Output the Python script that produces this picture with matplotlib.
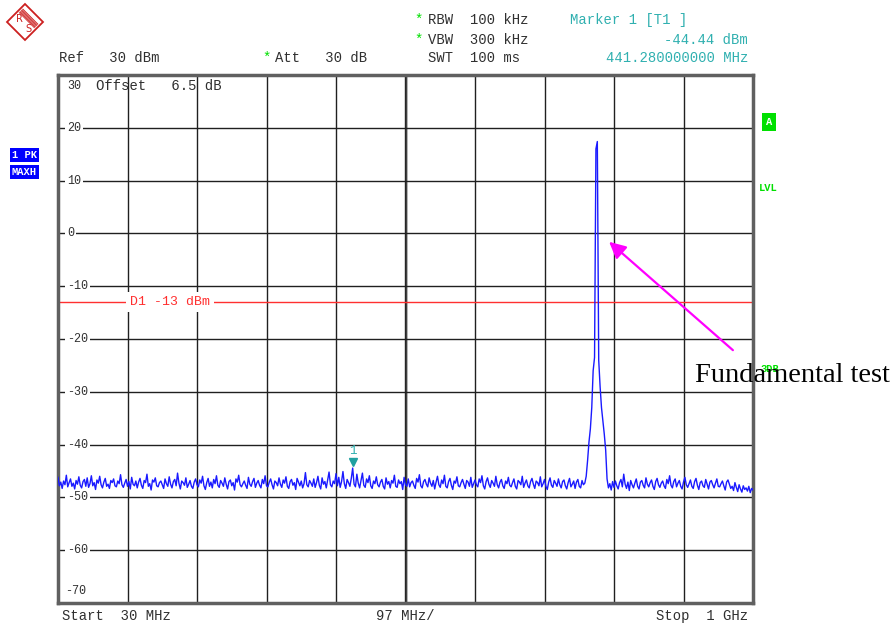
import numpy as np
import matplotlib
matplotlib.use("Agg")
import matplotlib.pyplot as plt
from matplotlib.patches import Polygon

# ---------------- sweep settings (501 points, 30 MHz .. 1 GHz) ----------------
f_start = 30.0
f_stop = 1000.0
n_points = 501
freq = np.linspace(f_start, f_stop, n_points)

# ---------------- trace values (dBm) ----------------
level = [
    -46.2, -47.8, -47.1, -48.3, -46.9, -47.6, -45.8, -48.0, -47.2, -46.5, -47.9, -47.3, -48.4, -46.8, -47.5, -46.1, -47.7, -48.2, -47.0, -46.6,
    -47.9, -46.3, -48.1, -47.4, -45.9, -47.8, -47.2, -48.5, -46.7, -47.3, -46.0, -47.6, -48.2, -47.1, -46.4, -47.9, -47.5, -48.3, -46.8, -47.2,
    -46.5, -47.8, -48.0, -46.9, -47.4, -45.7, -47.6, -48.1, -47.3, -46.6, -47.9, -47.0, -48.4, -46.2, -47.5, -47.8, -46.9, -48.2, -47.1, -46.4,
    -47.7, -48.3, -46.8, -47.2, -45.6, -47.9, -47.4, -48.6, -46.7, -47.1, -46.3, -47.8, -48.0, -47.2, -46.9, -47.6, -48.3, -46.5, -47.4, -47.9,
    -46.1, -47.5, -48.2, -47.0, -46.6, -47.8, -45.4, -47.3, -48.4, -46.9, -47.2, -47.7, -46.3, -48.1, -47.5, -46.8, -47.9, -48.3, -47.1, -46.5,
    -47.6, -48.0, -46.7, -47.3, -46.0, -47.8, -48.5, -47.2, -46.4, -47.9, -47.1, -48.2, -46.6, -47.4, -45.9, -47.7, -48.1, -46.8, -47.3, -47.9,
    -46.3, -47.5, -48.4, -47.0, -46.7, -47.8, -47.2, -48.6, -46.5, -47.1, -45.8, -47.6, -48.0, -47.4, -46.9, -47.7, -48.3, -46.2, -47.5, -47.9,
    -47.0, -46.4, -48.1, -47.3, -46.8, -47.7, -48.2, -46.6, -47.4, -45.9, -47.8, -48.0, -47.1, -46.5, -47.6, -48.4, -46.9, -47.2, -47.8, -46.3,
    -47.5, -48.1, -46.7, -47.3, -46.1, -47.9, -48.3, -47.0, -46.6, -47.7, -47.2, -48.5, -46.4, -47.1, -47.8, -46.9, -48.2, -47.4, -45.3, -47.6,
    -48.0, -46.8, -47.3, -47.9, -46.5, -48.1, -47.2, -46.0, -47.7, -48.4, -46.3, -47.5, -47.0, -48.2, -46.7, -45.2, -47.6, -48.0, -46.9, -47.4,
    -45.5, -47.8, -46.2, -48.1, -47.0, -45.1, -47.4, -48.3, -46.6, -47.2, -47.9, -46.4, -44.44, -47.5, -48.0, -45.6, -47.3, -48.2, -46.8, -45.4,
    -47.7, -48.1, -46.5, -47.2, -45.9, -47.8, -48.3, -46.9, -47.4, -46.1, -47.6, -48.0, -47.1, -46.6, -47.9, -48.4, -46.3, -47.5, -47.0, -48.2,
    -46.8, -47.3, -45.8, -47.9, -48.1, -46.7, -47.4, -47.0, -48.5, -46.2, -47.6, -47.9, -46.5, -48.0, -47.2, -46.9, -47.7, -48.3, -46.4, -47.1,
    -45.7, -47.8, -48.2, -47.0, -46.6, -47.5, -48.0, -46.3, -47.3, -47.9, -46.8, -48.4, -47.1, -46.0, -47.6, -48.1, -46.7, -47.4, -45.8, -47.9,
    -48.2, -47.0, -46.4, -47.7, -48.5, -46.9, -47.3, -46.1, -47.8, -48.0, -47.2, -46.6, -47.5, -48.3, -46.8, -47.1, -47.9, -46.2, -48.1, -47.4,
    -46.7, -47.6, -48.0, -46.5, -47.2, -45.9, -47.8, -48.4, -47.0, -46.3, -47.5, -48.1, -46.8, -47.3, -47.9, -46.0, -47.6, -48.2, -47.1, -46.6,
    -47.8, -48.3, -46.9, -47.4, -46.2, -47.7, -48.0, -47.2, -46.5, -47.9, -48.4, -46.8, -47.1, -47.6, -46.0, -48.1, -47.3, -46.7, -47.8, -48.2,
    -47.0, -46.4, -47.5, -48.3, -46.9, -47.2, -47.8, -46.1, -48.0, -47.4, -46.6, -47.9, -48.5, -47.1, -46.3, -47.7, -48.1, -46.8, -47.3, -47.9,
    -46.5, -47.6, -48.2, -47.0, -46.7, -47.8, -48.4, -47.2, -46.4, -48.0, -47.5, -46.9, -48.3, -47.1, -46.6, -47.9, -48.2, -46.8, -47.6, -47.3,
    # fundamental
    -46.0, -43.0, -39.5, -37.0, -33.0, -26.0, -23.5, 16.0, 17.4, -24.0, -29.0, -33.0, -35.5, -38.0, -41.0, -46.5,
    -48.2, -47.4, -48.6, -47.0, -48.1, -46.9, -47.8, -48.4, -47.2, -46.6, -48.0, -45.6, -47.5, -48.3, -47.1, -48.7, -46.8, -47.6, -48.2, -47.3,
    -46.5, -47.9, -48.4, -47.1, -46.8, -47.7, -48.2, -46.3, -47.5, -48.0, -47.2, -46.7, -47.9, -48.5, -47.0, -46.4, -47.6, -48.1, -47.3, -46.9,
    -47.8, -48.3, -46.6, -47.4, -45.9, -47.7, -48.2, -47.0, -46.5, -48.0, -47.3, -46.8, -47.9, -48.4, -47.1, -46.2, -47.6, -48.1, -47.4, -46.7,
    -47.9, -48.3, -47.0, -46.4, -47.7, -48.5, -47.2, -46.9, -47.8, -48.1, -46.6, -47.5, -48.4, -47.1, -46.8, -47.6, -48.2, -47.3, -46.5, -47.9,
    -48.0, -47.4, -46.9, -47.8, -48.6, -47.1, -46.7, -47.5, -48.3, -47.9, -48.7, -47.2, -48.1, -48.9, -47.6, -48.4, -49.0, -47.8, -48.5, -48.2,
    -48.8, -47.9, -49.1, -48.3, -48.6,
]

ref_level = 30
y_bottom = -70
y_ticks = [20, 10, 0, -10, -20, -30, -40, -50, -60]
display_line = -13
marker_freq = 441.28
marker_level = -44.44
span_div = 97.0

mono = "Liberation Mono"
teal = "#30b0b0"
green = "#00e000"
logo_red = "#cc2020"

fig = plt.figure(figsize=(8.96, 6.24), dpi=100)
ax = fig.add_axes([58 / 896, 1 - 603 / 624, 695 / 896, 528 / 624])
ax.set_xlim(f_start, f_stop)
ax.set_ylim(y_bottom, ref_level)

# grid
for k in range(1, 10):
    ax.axvline(f_start + k * span_div, color="#202020", lw=1.0, zorder=1)
ax.axvline(515 - 1.2, color="#202020", lw=1.0, zorder=1)
ax.axvline(515 + 1.2, color="#404040", lw=1.0, zorder=1)
for v in y_ticks:
    ax.axhline(v, color="#202020", lw=1.0, zorder=1)
    ax.annotate(str(v), xy=(0, v), xycoords=("axes fraction", "data"), xytext=(9, 0),
                textcoords="offset pixels", ha="left", va="center", fontsize=8.5,
                family=mono, color="#303030", zorder=3,
                bbox=dict(boxstyle="square,pad=0.15", fc="white", ec="none"))
ax.annotate(str(ref_level), xy=(0, 1), xycoords="axes fraction", xytext=(9, -11),
            textcoords="offset pixels", ha="left", va="center", fontsize=8.5,
            family=mono, color="#303030")
ax.annotate(str(y_bottom), xy=(0, 0), xycoords="axes fraction", xytext=(7, 12),
            textcoords="offset pixels", ha="left", va="center", fontsize=8.5,
            family=mono, color="#303030")
ax.annotate("Offset   6.5 dB", xy=(0, 1), xycoords="axes fraction", xytext=(38, -11),
            textcoords="offset pixels", ha="left", va="center", fontsize=10,
            family=mono, color="#303030")

ax.set_xticks([])
ax.set_yticks([])
for s in ax.spines.values():
    s.set_color("#606060")
    s.set_linewidth(2.5)

# display line D1
ax.axhline(display_line, color="#ff3030", lw=1.0, zorder=2)
ax.annotate("D1 -13 dBm", xy=(0, display_line), xycoords=("axes fraction", "data"),
            xytext=(72, 0), textcoords="offset pixels", ha="left", va="center",
            fontsize=9.5, family=mono, color="#ff3030", zorder=3,
            bbox=dict(boxstyle="square,pad=0.3", fc="white", ec="none"))

# trace
ax.plot(freq, level, color="#1a1aff", lw=1.0, zorder=4)

# marker 1 (triangle sits just above the marked point)
ax.annotate("", xy=(marker_freq, marker_level), xytext=(0, 6), textcoords="offset pixels")
ax.plot([marker_freq], [marker_level + 1.2], marker="v", color="#20a0a0", ms=6,
        linestyle="none", zorder=5)
ax.annotate("1", xy=(marker_freq, marker_level), xytext=(0, 17), textcoords="offset pixels",
            ha="center", va="center", fontsize=9, family=mono, color=teal)

# overlay in pixel coordinates for the screen annotations
ov = fig.add_axes([0, 0, 1, 1], zorder=10)
ov.set_xlim(0, 896)
ov.set_ylim(624, 0)
ov.axis("off")

# R&S logo
ov.add_patch(Polygon([(25, 4), (43, 22), (25, 40), (7, 22)], closed=True,
                     fill=False, ec=logo_red, lw=1.3))
for t in np.linspace(0.6, 0.8, 6):
    ov.plot([7 + 18 * t + 1.5, 25 + 18 * t - 1.5], [22 - 18 * t + 1.5, 40 - 18 * t - 1.5],
            color=logo_red, lw=0.6)
ov.text(19, 19, "R", color=logo_red, fontsize=7, ha="center", va="center", family="DejaVu Sans")
ov.text(28, 29, "S", color=logo_red, fontsize=7, ha="center", va="center", family="DejaVu Sans")

hdr = dict(family=mono, fontsize=10, va="center", color="#303030")
ov.text(59, 58, "Ref   30 dBm", ha="left", **hdr)
ov.text(267, 58, "*", ha="center", family=mono, fontsize=10, va="center", color=green)
ov.text(275, 58, "Att   30 dB", ha="left", **hdr)
ov.text(419, 20, "*", ha="center", family=mono, fontsize=10, va="center", color=green)
ov.text(428, 20, "RBW  100 kHz", ha="left", **hdr)
ov.text(419, 40, "*", ha="center", family=mono, fontsize=10, va="center", color=green)
ov.text(428, 40, "VBW  300 kHz", ha="left", **hdr)
ov.text(428, 58, "SWT  100 ms", ha="left", **hdr)
ov.text(570, 20, "Marker 1 [T1 ]", ha="left", family=mono, fontsize=10, va="center", color=teal)
ov.text(748, 40, "%.2f dBm" % marker_level, ha="right", family=mono, fontsize=10, va="center", color=teal)
ov.text(748, 58, "%.9f MHz" % marker_freq, ha="right", family=mono, fontsize=10, va="center", color=teal)

ov.text(62, 616, "Start  30 MHz", ha="left", **hdr)
ov.text(405, 616, "97 MHz/", ha="center", **hdr)
ov.text(748, 616, "Stop  1 GHz", ha="right", **hdr)

# side badges
ov.text(12, 155, "1 PK", ha="left", va="center", family=mono, fontsize=7.5, weight="bold",
        color="white", bbox=dict(boxstyle="square,pad=0.2", fc="#0000ff", ec="none"))
ov.text(12, 172, "MAXH", ha="left", va="center", family=mono, fontsize=7.5, weight="bold",
        color="white", bbox=dict(boxstyle="square,pad=0.2", fc="#0000ff", ec="none"))
ov.text(769, 122, "A", ha="center", va="center", family=mono, fontsize=7.5, weight="bold",
        color="white", bbox=dict(boxstyle="square,pad=0.35", fc=green, ec="none"))
ov.text(759, 188, "LVL", ha="left", va="center", family=mono, fontsize=7.5, weight="bold", color=green)
ov.text(760, 369, "3DB", ha="left", va="center", family=mono, fontsize=7.5, weight="bold",
        color=green, zorder=1)

# annotation
ov.annotate("", xy=(607, 240), xytext=(735, 352),
            arrowprops=dict(arrowstyle="-|>,head_length=1.0,head_width=0.5",
                            color="#ff00ff", lw=1.6))
ov.text(695, 376, "Fundamental test", ha="left", va="center",
        family="Liberation Serif", fontsize=20.5, color="black", zorder=2)

fig.savefig("out.png", dpi=100)
